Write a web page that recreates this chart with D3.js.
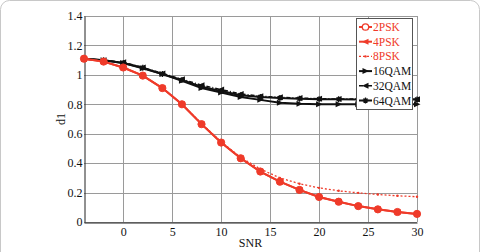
<!DOCTYPE html>
<html>
<head>
<meta charset="utf-8">
<script src="https://cdn.jsdelivr.net/npm/d3@7"></script>
<style>
  body { margin: 0; background: #fff; }
  svg { display: block; font-family: "Liberation Serif", "Times New Roman", serif; }
</style>
</head>
<body>
<div id="container"></div>
<script>
// x values (SNR)
const snr = [-4, -2, 0, 2, 4, 6, 8, 10, 12, 14, 16, 18, 20, 22, 24, 26, 28, 30];

const psk2 = [1.11, 1.09, 1.05, 0.995, 0.91, 0.80, 0.665, 0.54, 0.433, 0.343, 0.274, 0.218, 0.170, 0.138, 0.108, 0.086, 0.068, 0.055];
const psk4 = [1.11, 1.09, 1.05, 0.995, 0.91, 0.80, 0.665, 0.54, 0.433, 0.343, 0.274, 0.218, 0.170, 0.138, 0.108, 0.086, 0.068, 0.055];
const psk8 = [1.11, 1.09, 1.05, 0.995, 0.91, 0.80, 0.67, 0.545, 0.44, 0.36, 0.30, 0.26, 0.232, 0.212, 0.198, 0.187, 0.178, 0.172];
const qam16 = [1.11, 1.10, 1.08, 1.045, 1.005, 0.96, 0.91, 0.88, 0.85, 0.83, 0.81, 0.803, 0.80, 0.80, 0.80, 0.80, 0.80, 0.80];
const qam32 = [1.11, 1.10, 1.085, 1.05, 1.01, 0.97, 0.93, 0.90, 0.87, 0.855, 0.847, 0.842, 0.838, 0.836, 0.835, 0.835, 0.835, 0.835];
const qam64 = [1.11, 1.10, 1.08, 1.048, 1.005, 0.965, 0.92, 0.89, 0.862, 0.85, 0.843, 0.838, 0.835, 0.834, 0.833, 0.832, 0.832, 0.832];

const xTicks = [0, 5, 10, 15, 20, 25, 30];
const yTicks = [0, 0.2, 0.4, 0.6, 0.8, 1, 1.2, 1.4];

const series = [
  { name: "2PSK", values: psk2, color: "#ef3b2a", dash: null, marker: "circle", width: 2 },
  { name: "4PSK", values: psk4, color: "#ef3b2a", dash: null, marker: "triLeft", width: 2 },
  { name: "8PSK", values: psk8, color: "#ef3b2a", dash: "2,2", marker: "dot", width: 1.3 },
  { name: "16QAM", values: qam16, color: "#111", dash: null, marker: "triRight", width: 2 },
  { name: "32QAM", values: qam32, color: "#111", dash: "4,2,1,2", marker: "triLeft", width: 1.5 },
  { name: "64QAM", values: qam64, color: "#111", dash: null, marker: "star", width: 2 },
];

const width = 481;
const height = 252;
const margin = { top: 16, right: 64, bottom: 30, left: 84 };

const svg = d3.select("#container").append("svg")
  .attr("width", width)
  .attr("height", height);

// outer rounded frame
svg.append("rect")
  .attr("x", 0.5).attr("y", 0.5)
  .attr("width", width - 2).attr("height", height + 20)
  .attr("rx", 9)
  .attr("fill", "none")
  .attr("stroke", "#c8c8c8");

const x = d3.scaleLinear().domain([-4, 30]).range([margin.left, width - margin.right]);
const y = d3.scaleLinear().domain([0, 1.4]).range([height - margin.bottom, margin.top]);

// grid
const grid = svg.append("g").attr("stroke", "#9a9a9a").attr("stroke-width", 1);
grid.selectAll(".gx").data(xTicks).enter().append("line")
  .attr("x1", d => Math.round(x(d)) + 0.5).attr("x2", d => Math.round(x(d)) + 0.5)
  .attr("y1", y(0)).attr("y2", y(1.4));
grid.selectAll(".gy").data(yTicks).enter().append("line")
  .attr("y1", d => Math.round(y(d)) + 0.5).attr("y2", d => Math.round(y(d)) + 0.5)
  .attr("x1", x(-4)).attr("x2", x(30));

// axes
const xAxis = d3.axisBottom(x).tickValues(xTicks).tickSize(0).tickPadding(5).tickFormat(d3.format("d"));
const yAxis = d3.axisLeft(y).tickValues(yTicks).tickSize(0).tickPadding(2).tickFormat(d => d === 0 || d === 1 ? d : d.toFixed(1));

const gx = svg.append("g").attr("transform", `translate(0,${Math.round(y(0)) + 0.5})`).call(xAxis);
const gy = svg.append("g").attr("transform", `translate(${Math.round(x(-4)) + 0.5},0)`).call(yAxis);
[gx, gy].forEach(g => {
  g.select(".domain").attr("stroke", "#222");
  g.selectAll("text").attr("font-size", 12).attr("fill", "#111").attr("font-family", "Liberation Serif");
});

svg.append("text")
  .attr("x", (x(-4) + x(30)) / 2).attr("y", height - 5)
  .attr("text-anchor", "middle").attr("font-size", 12).attr("fill", "#111")
  .text("SNR");
svg.append("text")
  .attr("transform", `translate(65,${(y(0) + y(1.4)) / 2}) rotate(-90)`)
  .attr("text-anchor", "middle").attr("font-size", 12).attr("fill", "#111")
  .text("d1");

function drawMarker(g, type, cx, cy, color) {
  if (type === "circle") {
    g.append("circle").attr("cx", cx).attr("cy", cy).attr("r", 3.6).attr("fill", color).attr("stroke", color);
  } else if (type === "triLeft") {
    g.append("path").attr("d", `M${cx - 3.5},${cy} L${cx + 3},${cy - 3} L${cx + 3},${cy + 3} Z`).attr("fill", color);
  } else if (type === "triRight") {
    g.append("path").attr("d", `M${cx + 3.5},${cy} L${cx - 3},${cy - 3} L${cx - 3},${cy + 3} Z`).attr("fill", color);
  } else if (type === "dot") {
    g.append("circle").attr("cx", cx).attr("cy", cy).attr("r", 1.2).attr("fill", color);
  } else if (type === "star") {
    g.append("path").attr("d", `M${cx - 3},${cy} L${cx + 3},${cy} M${cx},${cy - 3} L${cx},${cy + 3} M${cx - 2},${cy - 2} L${cx + 2},${cy + 2} M${cx - 2},${cy + 2} L${cx + 2},${cy - 2}`)
      .attr("stroke", color).attr("stroke-width", 1.3);
  }
}

const line = d3.line().x((d, i) => x(snr[i])).y(d => y(d));
const plot = svg.append("g");

// draw black series first, red on top
[3, 4, 5, 0, 1, 2].forEach(k => {
  const s = series[k];
  const g = plot.append("g");
  g.append("path")
    .attr("d", line(s.values))
    .attr("fill", "none")
    .attr("stroke", s.color)
    .attr("stroke-width", s.width)
    .attr("stroke-dasharray", s.dash);
  s.values.forEach((v, i) => drawMarker(g, s.marker, x(snr[i]), y(v), s.color));
});

// legend
const lgX = 356, lgY = 18, lgW = 56, lgH = 91, rowH = 14.7;
const legend = svg.append("g");
legend.append("rect")
  .attr("x", lgX + 0.5).attr("y", lgY + 0.5).attr("width", lgW).attr("height", lgH)
  .attr("fill", "#fff").attr("stroke", "#555");
series.forEach((s, i) => {
  const cy = lgY + 9 + i * rowH;
  const row = legend.append("g");
  row.append("line")
    .attr("x1", lgX + 3).attr("x2", lgX + 16).attr("y1", cy).attr("y2", cy)
    .attr("stroke", s.color).attr("stroke-width", s.width)
    .attr("stroke-dasharray", s.dash);
  if (s.marker === "circle") {
    row.append("circle").attr("cx", lgX + 9.5).attr("cy", cy).attr("r", 3.2)
      .attr("fill", "#fff").attr("stroke", s.color).attr("stroke-width", 1.3);
  } else {
    drawMarker(row, s.marker, lgX + 9.5, cy, s.color);
  }
  row.append("text")
    .attr("x", lgX + 17).attr("y", cy + 4)
    .attr("font-size", 11.5).attr("fill", s.color)
    .text(s.name);
});
</script>
</body>
</html>
